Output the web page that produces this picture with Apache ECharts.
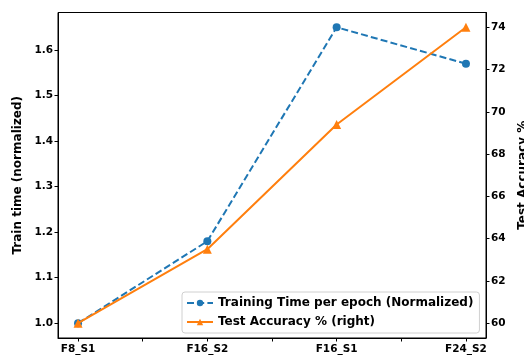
<!DOCTYPE html>
<html><head><meta charset="utf-8">
<script src="https://cdn.jsdelivr.net/npm/echarts@6/dist/echarts.min.js"></script>
<style>html,body{margin:0;padding:0;background:#fff}#c{width:524px;height:360px}</style>
</head><body><div id="c"></div>
<script>
const categories = ["F8_S1", "F16_S2", "F16_S1", "F24_S2"];
const trainTime = [1.0, 1.18, 1.65, 1.57];
const testAcc = [60, 63.5, 69.4, 74];
const leftTicks = [1.0, 1.1, 1.2, 1.3, 1.4, 1.5, 1.6];
const rightTicks = [60, 62, 64, 66, 68, 70, 72, 74];
const xMinorTicks = [0, 0.5, 1, 1.5, 2, 2.5, 3];

const FONT = "DejaVu Sans";
const chart = echarts.init(document.getElementById('c'), null, {renderer: 'canvas'});
const lbl = {color: '#000', fontFamily: FONT, fontWeight: 'bold', fontSize: 10.5};
const nameStyle = {color: '#000', fontFamily: FONT, fontWeight: 'bold', fontSize: 12};
chart.setOption({
  animation: false,
  backgroundColor: '#fff',
  grid: {left: 58, right: 38, top: 12.5, bottom: 22, show: true, borderColor: '#000', borderWidth: 1,
    backgroundColor: 'transparent', containLabel: false, outerBoundsMode: 'none'},
  legend: {
    left: 182, top: 292, orient: 'vertical', itemWidth: 26, itemHeight: 8, itemGap: 7,
    padding: [5, 6, 5, 4], borderColor: '#d0d0d0', borderWidth: 1, borderRadius: 3,
    backgroundColor: 'rgba(255,255,255,0.8)',
    textStyle: {color: '#000', fontFamily: FONT, fontWeight: 'bold', fontSize: 12},
    data: ['Training Time per epoch (Normalized)', 'Test Accuracy % (right)']
  },
  xAxis: {
    type: 'value', min: -0.155, max: 3.155,
    axisLine: {show: true, onZero: false, lineStyle: {color: '#000', width: 1}},
    axisTick: {show: true, length: 3.5, lineStyle: {color: '#000'}, customValues: xMinorTicks},
    axisLabel: Object.assign({}, lbl, {margin: 6, customValues: [0, 1, 2, 3],
      formatter: v => categories[Math.round(v)] || ''}),
    splitLine: {show: false}
  },
  yAxis: [{
    type: 'value', min: 0.9675, max: 1.6825,
    name: 'Train time (normalized)', nameLocation: 'middle', nameGap: 32,
    nameTextStyle: nameStyle,
    axisLine: {show: true, onZero: false, lineStyle: {color: '#000'}},
    axisTick: {show: true, length: 3.5, lineStyle: {color: '#000'}, customValues: leftTicks},
    axisLabel: Object.assign({}, lbl, {margin: 5, customValues: leftTicks, formatter: v => v.toFixed(1)}),
    splitLine: {show: false}
  }, {
    type: 'value', min: 59.3, max: 74.7, position: 'right',
    name: 'Test Accuracy %', nameLocation: 'middle', nameGap: 29,
    nameTextStyle: nameStyle,
    axisLine: {show: true, onZero: false, lineStyle: {color: '#000'}},
    axisTick: {show: true, length: 3.5, lineStyle: {color: '#000'}, customValues: rightTicks},
    axisLabel: Object.assign({}, lbl, {margin: 5, customValues: rightTicks, formatter: v => String(Math.round(v))}),
    splitLine: {show: false}
  }],
  series: [{
    name: 'Training Time per epoch (Normalized)', type: 'line', yAxisIndex: 0,
    data: trainTime.map((v, i) => [i, v]),
    symbol: 'circle', symbolSize: 8,
    itemStyle: {color: '#1f77b4'},
    lineStyle: {color: '#1f77b4', width: 2, type: [7, 3.2]},
    z: 2
  }, {
    name: 'Test Accuracy % (right)', type: 'line', yAxisIndex: 1,
    data: testAcc.map((v, i) => [i, v]),
    symbol: 'triangle', symbolSize: 9,
    itemStyle: {color: '#ff7f0e'},
    lineStyle: {color: '#ff7f0e', width: 2},
    z: 3
  }]
});
</script></body></html>
